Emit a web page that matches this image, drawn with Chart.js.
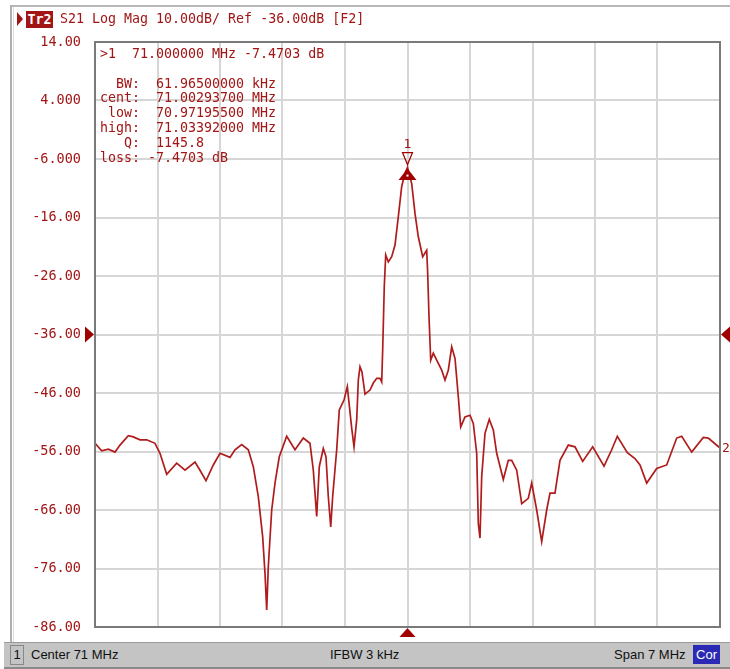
<!DOCTYPE html>
<html><head><meta charset="utf-8">
<script src="https://cdn.jsdelivr.net/npm/chart.js@4.4.1/dist/chart.umd.min.js"></script>
<style>
html,body{margin:0;padding:0;background:#fff;}
#wrap{position:relative;width:730px;height:669px;overflow:hidden;background:#fff;}
#c{position:absolute;left:0;top:0;}
.mono{position:absolute;font-family:'DejaVu Sans Mono',monospace;font-size:13.3px;color:#a31515;white-space:pre;}
.st{position:absolute;top:4px;font-family:'Liberation Sans',Arial,sans-serif;font-size:13px;color:#101010;white-space:pre;}
</style></head>
<body><div id="wrap">
<canvas id="c" width="730" height="669"></canvas>
<div style="position:absolute;left:10px;top:5px;width:720px;height:2px;background:#b8b8b8"></div>
<div style="position:absolute;left:10px;top:5px;width:2px;height:640px;background:#b0b0b0"></div>
<div style="position:absolute;left:13px;top:7px;width:1px;height:636px;background:#dcdcdc"></div>
<div style="position:absolute;left:17px;top:12px;width:0;height:0;border-left:6px solid #a31515;border-top:7px solid transparent;border-bottom:7px solid transparent"></div>
<div class="mono" id="trbox" style="left:26px;top:11px;width:27px;height:17px;line-height:17px;background:#a31515;color:#fff;text-align:center;font-weight:bold"></div>
<div class="mono" id="hdr" style="left:60px;top:10px;line-height:18px"></div>
<div class="mono" id="mk" style="left:100px;top:47px;line-height:14.8px"></div>
<div id="status" style="position:absolute;left:4px;top:642px;width:726px;height:24px;background:#c4c4c4;border-top:1px solid #9a9a9a;border-bottom:2px solid #8a8a8a">
  <span class="st" style="left:6px;top:2px;width:12px;height:18px;border:1px solid #888;text-align:center;line-height:18px" id="s0"></span>
  <span class="st" style="left:27px" id="s1"></span>
  <span class="st" style="left:326px" id="s2"></span>
  <span class="st" style="left:610px" id="s3"></span>
  <span class="st" style="left:689px;top:2px;width:27px;height:19px;line-height:19px;text-align:center;background:#2a2ab4;color:#fff" id="s4"></span>
</div>
</div>
<script>
// ---- data ----
const freqMHz = [67.500,67.575,67.649,67.724,67.780,67.873,67.929,68.004,68.079,68.172,68.228,68.303,68.415,68.508,68.620,68.676,68.743,68.825,68.900,69.012,69.068,69.143,69.217,69.273,69.329,69.378,69.404,69.423,69.441,69.479,69.516,69.564,69.647,69.740,69.833,69.908,69.945,69.983,70.012,70.057,70.087,70.113,70.140,70.162,70.207,70.236,70.289,70.326,70.375,70.401,70.431,70.449,70.468,70.490,70.524,70.580,70.617,70.655,70.692,70.711,70.722,70.740,70.756,70.785,70.823,70.860,70.897,70.935,70.972,71.000,71.047,71.084,71.121,71.170,71.215,71.226,71.241,71.260,71.289,71.327,71.383,71.420,71.457,71.495,71.532,71.569,71.596,71.644,71.700,71.737,71.775,71.793,71.812,71.831,71.868,71.916,71.961,71.999,72.073,72.129,72.167,72.223,72.279,72.353,72.391,72.447,72.503,72.559,72.596,72.652,72.708,72.801,72.876,72.962,73.074,73.201,73.287,73.350,73.462,73.548,73.604,73.679,73.791,73.903,74.015,74.071,74.183,74.313,74.369,74.500];
const s21dB = [-54.6,-55.9,-55.6,-56.1,-54.9,-53.3,-53.5,-54.0,-54.0,-54.6,-56.3,-59.9,-58.0,-59.2,-57.8,-59.2,-61.0,-58.3,-56.3,-57.0,-55.7,-54.8,-55.7,-58.6,-63.7,-70.6,-76.8,-83.1,-75.7,-66.0,-61.4,-56.9,-53.4,-55.7,-53.7,-54.6,-59.2,-67.1,-58.6,-55.5,-56.9,-63.7,-68.9,-63.7,-55.7,-48.9,-47.2,-44.9,-52.0,-55.2,-50.6,-43.8,-41.5,-42.4,-46.2,-45.5,-44.3,-43.5,-43.5,-44.1,-38.6,-27.8,-22.4,-23.6,-22.7,-20.7,-15.9,-10.7,-8.4,-7.47,-10.2,-15.3,-19.3,-22.7,-21.6,-25.5,-33.0,-40.4,-39.2,-40.4,-42.1,-43.8,-42.1,-38.1,-40.1,-46.6,-51.8,-50.1,-49.8,-51.2,-56.3,-68.3,-70.8,-60.3,-52.9,-50.5,-52.3,-56.3,-60.8,-57.5,-57.5,-59.2,-64.9,-64.0,-61.4,-66.0,-71.4,-66.0,-63.1,-63.1,-57.5,-54.9,-55.2,-57.7,-55.2,-58.5,-55.7,-53.4,-56.2,-57.2,-58.3,-61.4,-58.9,-58.3,-53.7,-53.4,-56.1,-53.6,-53.7,-55.4];
const yTickValues = [14,4,-6,-16,-26,-36,-46,-56,-66,-76,-86];
const xGridMHz = [67.5,68.2,68.9,69.6,70.3,71.0,71.7,72.4,73.1,73.8,74.5];
const refLevel = -36;
const centerMHz = 71;
const markerFreq = 71.0;
const markerDb = -7.4703;
const headerTrace = "Tr2";
const headerText = "S21 Log Mag 10.00dB/ Ref -36.00dB [F2]";
const markerLines = [">1  71.000000 MHz -7.4703 dB","","  BW:  61.96500000 kHz","cent:  71.00293700 MHz"," low:  70.97195500 MHz","high:  71.03392000 MHz","   Q:  1145.8","loss: -7.4703 dB"];
const statusTexts = ["1","Center 71 MHz","IFBW 3 kHz","Span 7 MHz","Cor"];

document.getElementById('trbox').textContent = headerTrace;
document.getElementById('hdr').textContent = headerText;
document.getElementById('mk').textContent = markerLines.join("\n");
statusTexts.forEach((t,i)=>document.getElementById('s'+i).textContent=t);

const RED = '#a31515';
function tri(ctx, pts, fill, stroke){
  ctx.beginPath(); ctx.moveTo(pts[0][0],pts[0][1]);
  for(let i=1;i<pts.length;i++) ctx.lineTo(pts[i][0],pts[i][1]);
  ctx.closePath();
  if(fill){ctx.fillStyle=fill;ctx.fill();}
  if(stroke){ctx.strokeStyle=stroke;ctx.lineWidth=1.2;ctx.stroke();}
}
const decor = {
  id:'decor',
  beforeDraw(chart){
    const ctx=chart.ctx; ctx.save(); ctx.fillStyle='#fff'; ctx.fillRect(0,0,chart.width,chart.height); ctx.restore();
  },
  afterDraw(chart){
    const {ctx, chartArea:a, scales:{x,y}} = chart;
    ctx.save();
    ctx.strokeStyle='#7a7a7a'; ctx.lineWidth=2;
    ctx.strokeRect(a.left,a.top,a.right-a.left,a.bottom-a.top);
    const ry = y.getPixelForValue(refLevel);
    tri(ctx,[[a.left-10,ry-8],[a.left-10,ry+8],[a.left-1,ry]],'#a00000');
    tri(ctx,[[a.right+10,ry-8],[a.right+10,ry+8],[a.right+1,ry]],'#a00000');
    const cx = x.getPixelForValue(centerMHz);
    tri(ctx,[[cx-8,a.bottom+10],[cx+8,a.bottom+10],[cx,a.bottom+1]],'#a00000');
    const px = x.getPixelForValue(markerFreq), py = y.getPixelForValue(markerDb);
    tri(ctx,[[px-9,py+12.5],[px+9,py+12.5],[px,py+1]],'#a00000');
    ctx.fillStyle='#fff'; ctx.fillRect(px-1,py+7,2,2);
    tri(ctx,[[px-5,py-15],[px+5,py-15],[px,py-3]],null,'#a00000');
    ctx.fillStyle=RED; ctx.font="13px 'DejaVu Sans Mono'"; ctx.textAlign='center'; ctx.textBaseline='middle';
    ctx.fillText('1',px,py-23);
    const ey = y.getPixelForValue(s21dB[s21dB.length-1]);
    ctx.textAlign='left'; ctx.fillText('2',a.right+2,ey+1);
    ctx.restore();
  }
};
new Chart(document.getElementById('c'),{
  type:'line',
  data:{datasets:[{data:freqMHz.map((f,i)=>({x:f,y:s21dB[i]})),borderColor:'#b01c1c',borderWidth:1.7,pointRadius:0,tension:0,fill:false}]},
  options:{
    responsive:false, animation:false, events:[],
    layout:{padding:{left:0,top:42,right:10,bottom:42}},
    plugins:{legend:{display:false},tooltip:{enabled:false},title:{display:false}},
    scales:{
      x:{type:'linear',min:67.5,max:74.5,
        afterBuildTicks(s){s.ticks=xGridMHz.map(v=>({value:v}));},
        afterFit(s){s.height=0;},
        ticks:{display:false},
        grid:{color:'#d6d6d6',lineWidth:2,drawTicks:false},
        border:{display:false}},
      y:{min:-86,max:14,
        afterBuildTicks(s){s.ticks=yTickValues.map(v=>({value:v}));},
        afterFit(s){s.width=95;},
        ticks:{color:RED,padding:14,font:{family:"'DejaVu Sans Mono'",size:13.5},callback:v=>Number(v).toPrecision(4)},
        grid:{color:'#d6d6d6',lineWidth:2,drawTicks:false},
        border:{display:false}}
    }
  },
  plugins:[decor]
});
</script>
</body></html>
